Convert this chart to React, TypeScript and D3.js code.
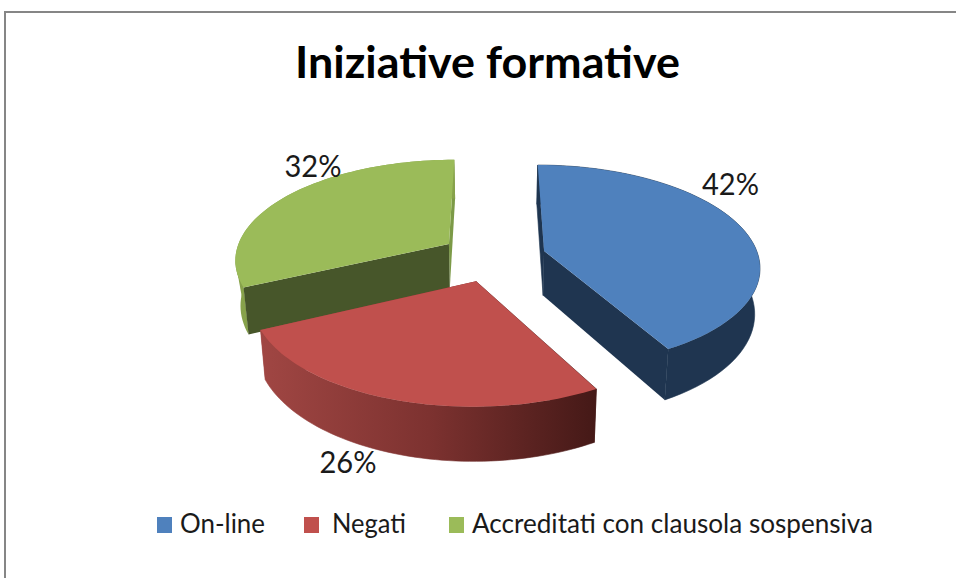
import React from "react";
import * as d3 from "d3";

const categories = ["On-line", "Negati", "Accreditati con clausola sospensiva"];
const values = [42, 26, 32];
const percentLabels = ["42%", "26%", "32%"];
const topColors = ["#4f81bd", "#c0504d", "#9bbb59"];
const startFaceColors = ["#1f3550", "url(#redSide)", "#47562a"];
const endFaceColors = ["#1f3550", "url(#redSide)", "#7c9a47"];
const sideColors = ["#1f3550", "url(#redSide)", "#87a24b"];

const width = 956;
const height = 578;

// pie plane, seen in perspective
const cx = 493;
const cy = 257;
const radius = 214.5;
const tilt = 0.465;
const distance = 7;
const explode = 0.248;
const depth = 45;

type Pt = [number, number];

function project(x: number, y: number, bottom: boolean): Pt {
  const k = distance / (distance + y);
  const sx = x * radius * k * (bottom ? 0.98 : 1);
  const sy = -y * radius * tilt * k + (bottom ? depth * k : 0);
  return [cx + sx, cy + sy];
}

const pie = d3
  .pie<number>()
  .sort(null)
  .startAngle(0)
  .endAngle(2 * Math.PI);

const toPath = d3.line<Pt>();

export default function App() {
  const arcs = pie(values);

  const slices = arcs.map((a, i) => {
    const mid = (a.startAngle + a.endAngle) / 2;
    const ox = explode * Math.sin(mid);
    const oy = explode * Math.cos(mid);
    const angles = d3.range(0, 61).map((s) => a.startAngle + ((a.endAngle - a.startAngle) * s) / 60);
    const rim = (bottom: boolean) =>
      angles.map((t) => project(ox + Math.sin(t), oy + Math.cos(t), bottom));
    const apexTop = project(ox, oy, false);
    const apexBottom = project(ox, oy, true);
    const rimTop = rim(false);
    const rimBottom = rim(true);
    const leftmost = d3.least(rimTop, (p) => p[0])!;
    return {
      i,
      top: toPath([apexTop, ...rimTop])! + "Z",
      side: toPath([...rimTop, ...rimBottom.slice().reverse()])! + "Z",
      startFace: toPath([apexTop, rimTop[0], rimBottom[0], apexBottom])! + "Z",
      endFace: toPath([apexTop, rimTop[60], rimBottom[60], apexBottom])! + "Z",
      // straight silhouette on the left of the green slice
      hull: toPath([leftmost, rimBottom[0], rimTop[0]])! + "Z",
    };
  });

  // back slice first, the red one sits in front of the green cut face
  const order = [2, 0, 1];

  const labelPos: Pt[] = [
    [730.5, 195],
    [348, 473],
    [313, 177],
  ];
  const legendSwatchX = [157, 304, 449];
  const legendTextX = [180, 332, 472];
  const legendTextW = [85, 74, 401];

  return (
    <svg
      width={width}
      height={height}
      style={{ position: "absolute", left: 0, top: 0, background: "#fff" }}
    >
      <defs>
        <linearGradient id="redSide" gradientUnits="userSpaceOnUse" x1={262} x2={595} y1={0} y2={0}>
          <stop offset="0" stopColor="#a04643" />
          <stop offset="0.5" stopColor="#7d3230" />
          <stop offset="1" stopColor="#451917" />
        </linearGradient>
      </defs>

      <path d={`M5,578V12H956`} fill="none" stroke="#868686" strokeWidth={2} />

      <text
        x={295}
        y={78}
        fontFamily="Lato"
        fontWeight={700}
        fontSize={43}
        textLength={385}
        lengthAdjust="spacingAndGlyphs"
        fill="#000"
      >
        Iniziative formative
      </text>

      {order.map((i) => {
        const s = slices[i];
        const seam = i === 2 ? "none" : sideColors[i];
        return (
          <g key={i}>
            <path d={s.endFace} fill={endFaceColors[i]} />
            <path d={s.side} fill={sideColors[i]} stroke={seam} strokeWidth={0.6} />
            {i === 2 && <path d={s.hull} fill={sideColors[i]} />}
            <path d={s.startFace} fill={startFaceColors[i]} stroke={i === 2 ? "none" : startFaceColors[i]} strokeWidth={0.6} />
            <path d={s.top} fill={topColors[i]} />
          </g>
        );
      })}

      {percentLabels.map((t, i) => (
        <text
          key={t}
          x={labelPos[i][0]}
          y={labelPos[i][1]}
          textAnchor="middle"
          fontFamily="Lato"
          fontSize={30}
          fill="#1a1a1a"
          textLength={57}
          lengthAdjust="spacingAndGlyphs"
        >
          {t}
        </text>
      ))}

      {categories.map((c, i) => (
        <g key={c}>
          <rect x={legendSwatchX[i]} y={517} width={15} height={16} fill={topColors[i]} />
          <text
            x={legendTextX[i]}
            y={533}
            fontFamily="Lato"
            fontSize={26}
            fill="#1a1a1a"
            textLength={legendTextW[i]}
            lengthAdjust="spacingAndGlyphs"
          >
            {c}
          </text>
        </g>
      ))}
    </svg>
  );
}
